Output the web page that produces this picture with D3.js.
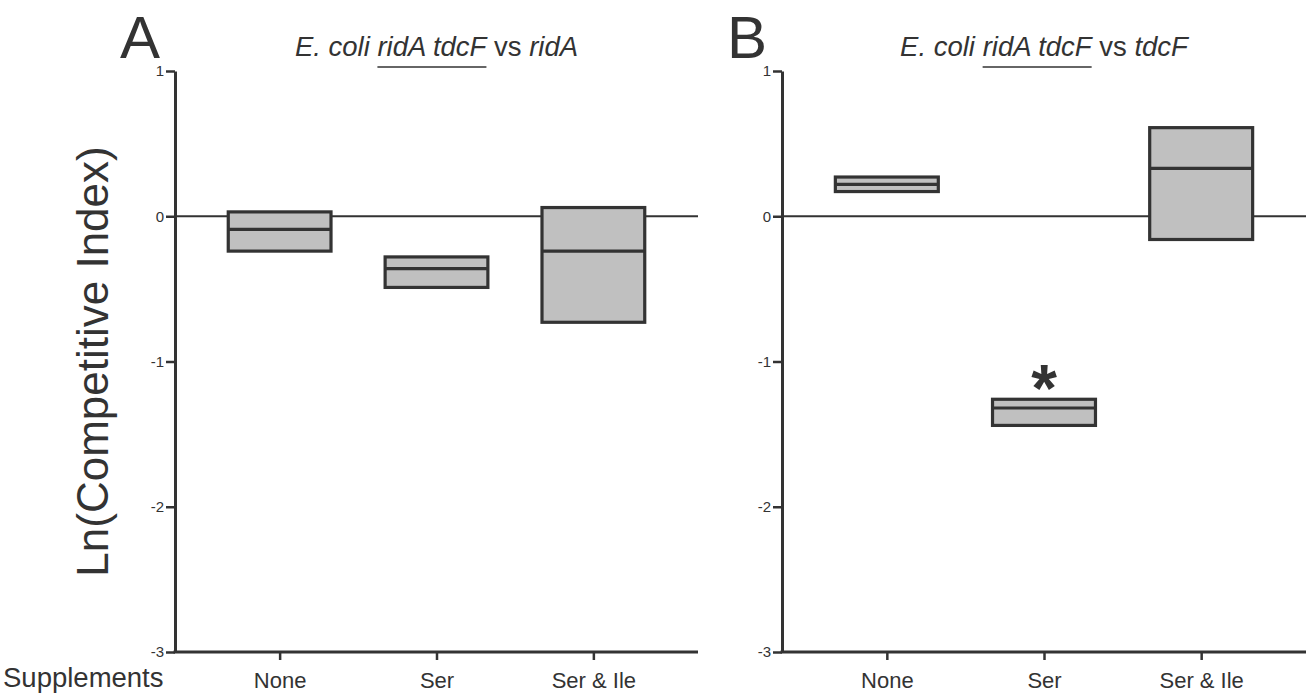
<!DOCTYPE html>
<html>
<head>
<meta charset="utf-8">
<script src="https://cdn.jsdelivr.net/npm/d3@7"></script>
<style>
  body { margin: 0; background: #fff; }
  text { font-family: "Liberation Sans", Arial, sans-serif; fill: #333; }
</style>
</head>
<body>
<svg id="chart" width="1306" height="694"></svg>
<script>
// data
const categories = ["None", "Ser", "Ser & Ile"];
const yTicks = [1, 0, -1, -2, -3];

// panel A: ridA tdcF vs ridA (min / mean / max of ln CI)
const aLow  = [-0.24, -0.49, -0.73];
const aMid  = [-0.09, -0.36, -0.24];
const aHigh = [ 0.03, -0.28,  0.06];

// panel B: ridA tdcF vs tdcF
const bLow  = [ 0.17, -1.44, -0.16];
const bMid  = [ 0.22, -1.32,  0.33];
const bHigh = [ 0.27, -1.26,  0.61];
const bMarks = ["", "*", ""];

const ink = "#333";
let svg = d3.select("#chart");

let y = d3.scaleLinear().domain([-3, 1]).range([652, 71]);

let panels = [
  { letter: "A", left: 175, right: 698, low: aLow, mid: aMid, high: aHigh, marks: ["", "", ""],
    title: [["E. coli ", true], ["ridA tdcF", true, true], [" vs ", false], ["ridA", true]] },
  { letter: "B", left: 782, right: 1306, low: bLow, mid: bMid, high: bHigh, marks: bMarks,
    title: [["E. coli ", true], ["ridA tdcF", true, true], [" vs ", false], ["tdcF", true]] }
];

function drawPanel(p) {
  let x = d3.scalePoint().domain(categories).range([p.left, p.right]).padding(0.667);
  let g = svg.append("g");

  // zero reference line
  g.append("line")
    .attr("x1", p.left).attr("x2", p.right)
    .attr("y1", y(0)).attr("y2", y(0))
    .attr("stroke", ink).attr("stroke-width", 2);

  // y axis
  let ya = g.append("g")
    .attr("transform", "translate(" + p.left + ",0)")
    .call(d3.axisLeft(y).tickValues(yTicks).tickSize(9).tickSizeOuter(0).tickPadding(2)
      .tickFormat(function(d) { return String(d); }));
  ya.select(".domain").attr("stroke", ink).attr("stroke-width", 3);
  ya.selectAll(".tick line").attr("stroke", ink).attr("stroke-width", 2.5);
  ya.selectAll(".tick text").attr("font-size", 15).style("font-family", null);

  // x axis
  let xa = g.append("g")
    .attr("transform", "translate(0," + y(-3) + ")")
    .call(d3.axisBottom(x).tickSize(8).tickSizeOuter(0).tickPadding(12));
  xa.select(".domain").attr("stroke", ink).attr("stroke-width", 3)
    .attr("d", "M" + (p.left - 1.5) + ",0H" + p.right);
  xa.selectAll(".tick line").attr("stroke", ink).attr("stroke-width", 2.5);
  xa.selectAll(".tick text").attr("font-size", 22).style("font-family", null);
  g.selectAll(".tick text").attr("fill", ink);

  // floating boxes: min-max with mean line
  let bw = x.step() * 0.655;
  let rows = categories.map(function(c, i) {
    return { cat: c, low: p.low[i], mid: p.mid[i], high: p.high[i], mark: p.marks[i] };
  });

  g.selectAll(".box").data(rows).enter().append("rect")
    .attr("class", "box")
    .attr("x", function(d) { return x(d.cat) - bw / 2; })
    .attr("y", function(d) { return y(d.high); })
    .attr("width", bw)
    .attr("height", function(d) { return y(d.low) - y(d.high); })
    .attr("fill", "#c0c0c0").attr("stroke", ink).attr("stroke-width", 3.2);

  g.selectAll(".mean").data(rows).enter().append("line")
    .attr("class", "mean")
    .attr("x1", function(d) { return x(d.cat) - bw / 2; })
    .attr("x2", function(d) { return x(d.cat) + bw / 2; })
    .attr("y1", function(d) { return y(d.mid); })
    .attr("y2", function(d) { return y(d.mid); })
    .attr("stroke", ink).attr("stroke-width", 3.2);

  g.selectAll(".mark").data(rows.filter(function(d) { return d.mark; })).enter().append("text")
    .attr("class", "mark")
    .attr("x", function(d) { return x(d.cat); })
    .attr("y", function(d) { return y(d.high) + 12; })
    .attr("text-anchor", "middle")
    .attr("font-size", 66).attr("font-weight", "bold")
    .text(function(d) { return d.mark; });

  // panel letter
  svg.append("text")
    .attr("x", p.left - 55).attr("y", 58)
    .attr("font-size", 60)
    .text(p.letter);

  // title with underlined strains
  let t = svg.append("text")
    .attr("x", x(categories[1])).attr("y", 56)
    .attr("text-anchor", "middle")
    .attr("font-size", 27.5)
    .attr("xml:space", "preserve");
  p.title.forEach(function(part) {
    t.append("tspan").text(part[0]).attr("font-style", part[1] ? "italic" : "normal");
  });
  let start = p.title[0][0].length;
  let end = start + p.title[1][0].length - 1;
  let node = t.node();
  let ux1 = node.getStartPositionOfChar(start).x;
  let ux2 = node.getEndPositionOfChar(end).x;
  svg.append("line")
    .attr("x1", ux1).attr("x2", ux2)
    .attr("y1", 67).attr("y2", 67)
    .attr("stroke", ink).attr("stroke-width", 1.5);
}

panels.forEach(drawPanel);

// shared labels
svg.append("text")
  .attr("transform", "translate(108," + y(-1) + ") rotate(-90)")
  .attr("text-anchor", "middle")
  .attr("font-size", 44)
  .text("Ln(Competitive Index)");

svg.append("text")
  .attr("x", 3).attr("y", 687)
  .attr("font-size", 27.5)
  .text("Supplements");
</script>
</body>
</html>
